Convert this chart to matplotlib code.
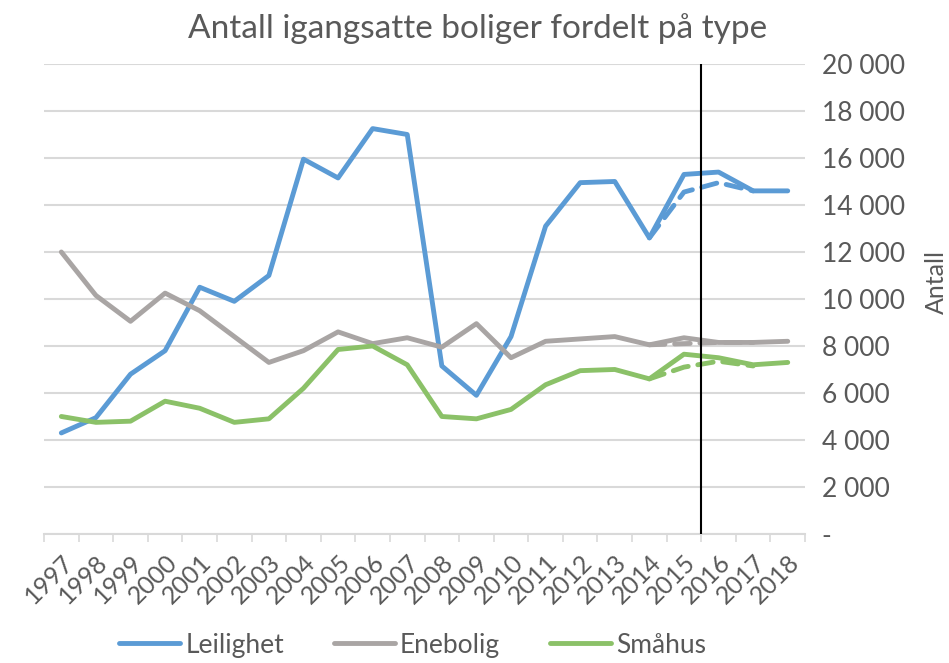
import numpy as np
import matplotlib.pyplot as plt

plt.rcParams['font.family'] = ['Lato', 'DejaVu Sans']

years = [str(y) for y in range(1997, 2019)]

leilighet = [4300, 4950, 6800, 7800, 10500, 9900, 11000, 15950, 15150, 17250,
             17000, 7150, 5900, 8400, 13100, 14950, 15000, 12600, 15300, 15400,
             14600, 14600]
enebolig = [12000, 10150, 9050, 10250, 9500, 8400, 7300, 7800, 8600, 8100,
            8350, 7950, 8950, 7500, 8200, 8300, 8400, 8050, 8350, 8150,
            8150, 8200]
smahus = [5000, 4750, 4800, 5650, 5350, 4750, 4900, 6200, 7850, 8000,
          7200, 5000, 4900, 5300, 6350, 6950, 7000, 6600, 7650, 7500,
          7200, 7300]

# forecast series (dashed), only 2014-2017
nan = np.nan
leilighet_prog = [nan] * 17 + [12600, 14550, 14950, 14600, nan]
enebolig_prog = [nan] * 17 + [8050, 8100, 8150, 8150, nan]
smahus_prog = [nan] * 17 + [6600, 7100, 7350, 7150, nan]

c_blue = '#5B9BD5'
c_gray = '#A9A5A4'
c_green = '#8BC168'
txt = '#595959'

fig = plt.figure(figsize=(9.49, 6.63), dpi=100)
ax = fig.add_axes([0.0464, 0.1946, 0.8019, 0.7089])

x = np.arange(len(years))
lw = 3.5
ax.plot(x, leilighet, color=c_blue, lw=lw, label='Leilighet', solid_joinstyle='round', solid_capstyle='round')
ax.plot(x, enebolig, color=c_gray, lw=lw, label='Enebolig', solid_joinstyle='round', solid_capstyle='round')
ax.plot(x, smahus, color=c_green, lw=lw, label='Småhus', solid_joinstyle='round', solid_capstyle='round')
ax.plot(x, leilighet_prog, color=c_blue, lw=lw, dashes=(3.2, 2), dash_capstyle='round')
ax.plot(x, enebolig_prog, color=c_gray, lw=lw, dashes=(3.2, 2), dash_capstyle='round')
ax.plot(x, smahus_prog, color=c_green, lw=lw, dashes=(3.2, 2), dash_capstyle='round')

ax.axvline(18.5, color='black', lw=1.5, zorder=5)

ax.set_xlim(-0.5, len(years) - 0.5)
ax.set_ylim(0, 20000)
yt = np.arange(0, 20001, 2000)
ax.set_yticks(yt)
ax.set_yticklabels(['-' if v == 0 else f'{v:,}'.replace(',', ' ') for v in yt])
ax.yaxis.tick_right()
ax.tick_params(axis='y', length=0, pad=12, labelsize=19, labelcolor=txt)
for lab in ax.get_yticklabels():
    lab.set_horizontalalignment('left')

ax.set_xticks(x)
ax.set_xticklabels(years, rotation=45, ha='right', va='top', rotation_mode='anchor')
ax.set_xticks(np.arange(-0.5, len(years)), minor=True)
ax.tick_params(axis='x', which='major', length=0, pad=12, labelsize=18, labelcolor=txt)
ax.tick_params(axis='x', which='minor', length=6, width=1.2, color='#D9D9D9')

ax.grid(axis='y', color='#D9D9D9', lw=1.5)
ax.set_axisbelow(True)
for s in ['top', 'left', 'right']:
    ax.spines[s].set_visible(False)
ax.spines['bottom'].set_color('#D9D9D9')
ax.spines['bottom'].set_linewidth(1.5)

fig.text(0.987, 0.575, 'Antall', rotation=90, ha='center', va='center', fontsize=18, color=txt)

fig.text(0.503, 0.957, 'Antall igangsatte boliger fordelt på type', fontsize=24, color=txt,
         ha='center', va='center')

fig.legend(loc='center', bbox_to_anchor=(0.435, 0.027), ncol=3, frameon=False, fontsize=19,
           handlelength=2.3, handletextpad=0.2, columnspacing=1.9, labelcolor=txt)

fig.savefig('out.png', dpi=100)
